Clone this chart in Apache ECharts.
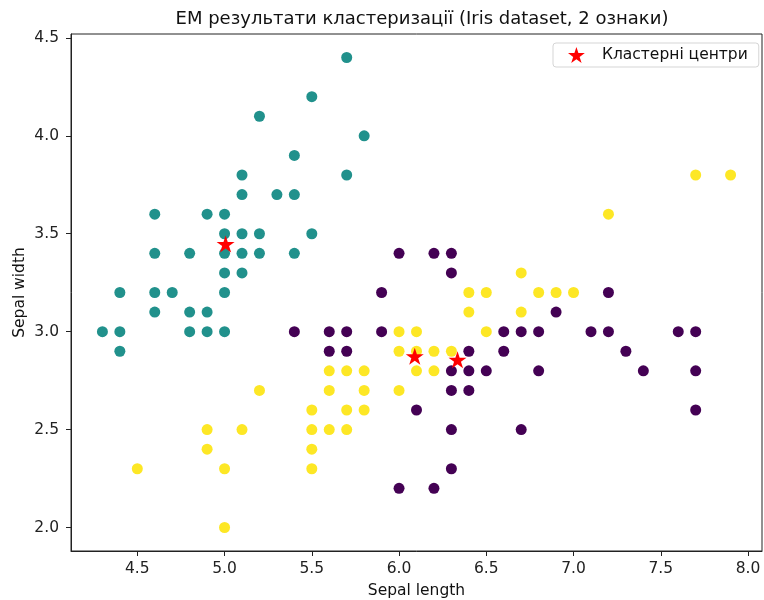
<!DOCTYPE html>
<html>
<head>
<meta charset="utf-8">
<script src="https://cdn.jsdelivr.net/npm/echarts@6/dist/echarts.min.js"></script>
<style>html,body{margin:0;padding:0;background:#fff}#c{width:764px;height:600px}</style>
</head>
<body>
<div id="c"></div>
<script>
// Cluster assignments: [sepal length, sepal width]
const clusterTeal = [[4.3,3.0],[4.4,2.9],[4.4,3.0],[4.4,3.2],[4.6,3.1],[4.6,3.2],[4.6,3.4],[4.6,3.6],[4.7,3.2],[4.8,3.0],[4.8,3.1],[4.8,3.4],[4.9,3.0],[4.9,3.1],[4.9,3.6],[5.0,3.0],[5.0,3.2],[5.0,3.3],[5.0,3.4],[5.0,3.5],[5.0,3.6],[5.1,3.3],[5.1,3.4],[5.1,3.5],[5.1,3.7],[5.1,3.8],[5.2,3.4],[5.2,3.5],[5.2,4.1],[5.3,3.7],[5.4,3.4],[5.4,3.7],[5.4,3.9],[5.5,3.5],[5.5,4.2],[5.7,3.8],[5.7,4.4],[5.8,4.0]];
const clusterPurple = [[5.4,3.0],[5.6,2.9],[5.6,3.0],[5.7,2.9],[5.7,3.0],[5.9,3.0],[5.9,3.2],[6.0,2.2],[6.0,3.4],[6.1,2.6],[6.2,2.2],[6.2,3.4],[6.3,2.3],[6.3,2.5],[6.3,2.7],[6.3,2.8],[6.3,3.3],[6.3,3.4],[6.4,2.7],[6.4,2.8],[6.4,2.9],[6.5,2.8],[6.6,2.9],[6.6,3.0],[6.7,2.5],[6.7,3.0],[6.8,2.8],[6.8,3.0],[6.9,3.1],[7.1,3.0],[7.2,3.0],[7.2,3.2],[7.3,2.9],[7.4,2.8],[7.6,3.0],[7.7,2.6],[7.7,2.8],[7.7,3.0]];
const clusterYellow = [[4.5,2.3],[4.9,2.4],[4.9,2.5],[5.0,2.0],[5.0,2.3],[5.1,2.5],[5.2,2.7],[5.5,2.3],[5.5,2.4],[5.5,2.5],[5.5,2.6],[5.6,2.5],[5.6,2.7],[5.6,2.8],[5.7,2.5],[5.7,2.6],[5.7,2.8],[5.8,2.6],[5.8,2.7],[5.8,2.8],[6.0,2.7],[6.0,2.9],[6.0,3.0],[6.1,2.8],[6.1,2.9],[6.1,3.0],[6.2,2.8],[6.2,2.9],[6.3,2.9],[6.4,3.1],[6.4,3.2],[6.5,3.0],[6.5,3.2],[6.7,3.1],[6.7,3.3],[6.8,3.2],[6.9,3.2],[7.0,3.2],[7.2,3.6],[7.7,3.8],[7.9,3.8]];
const centers = [[5.006,3.453],[6.09,2.879],[6.335,2.862]];
const xTicks = [4.5,5.0,5.5,6.0,6.5,7.0,7.5,8.0];
const yTicks = [2.0,2.5,3.0,3.5,4.0,4.5];
const titleText = 'EM результати кластеризації (Iris dataset, 2 ознаки)';
const xName = 'Sepal length';
const yName = 'Sepal width';
const legendName = 'Кластерні центри';

const FONT = 'DejaVu Sans';
const FS = 15.5;
const STAR = 'path://M0,-50L11.23,-15.45L47.55,-15.45L18.16,5.9L29.39,40.45L0,19.1L-29.39,40.45L-18.16,5.9L-47.55,-15.45L-11.23,-15.45Z';
const chart = echarts.init(document.getElementById('c'), null, {renderer: 'canvas'});
const axisCommon = {
  type: 'value',
  nameLocation: 'middle',
  nameMoveOverlap: false,
  nameTextStyle: {fontFamily: FONT, fontSize: FS, color: '#111'},
  axisLine: {show: true, onZero: false, lineStyle: {color: '#222', width: 1}},
  splitLine: {show: false}
};
chart.setOption({
  animation: false,
  backgroundColor: '#fff',
  title: {
    text: titleText, left: 417, top: 5, textAlign: 'center',
    textStyle: {fontFamily: FONT, fontSize: 18, fontWeight: 'normal', color: '#111'}
  },
  legend: {
    data: [legendName], left: 553, top: 43,
    padding: [4, 11, 4, 15], itemWidth: 17, itemHeight: 16,
    backgroundColor: '#fff', borderColor: '#d5d5d5', borderWidth: 1, borderRadius: 3,
    textStyle: {fontFamily: FONT, fontSize: FS, color: '#111', padding: [0, 0, 0, 12]}
  },
  grid: {left: 71, right: 2, top: 34, bottom: 49, show: true, borderColor: '#222', borderWidth: 1, containLabel: false, outerBoundsMode: 'none'},
  xAxis: Object.assign({}, axisCommon, {
    min: 4.12, max: 8.08, name: xName, nameGap: 32,
    axisTick: {show: true, length: 5, customValues: xTicks, lineStyle: {color: '#222'}},
    axisLabel: {customValues: xTicks, margin: 10, fontFamily: FONT, fontSize: FS, color: '#222', formatter: v => v.toFixed(1)}
  }),
  yAxis: Object.assign({}, axisCommon, {
    min: 1.88, max: 4.52, name: yName, nameGap: 43,
    axisTick: {show: true, length: 5, customValues: yTicks, lineStyle: {color: '#222'}},
    axisLabel: {customValues: yTicks, margin: 12, fontFamily: FONT, fontSize: FS, color: '#222', formatter: v => v.toFixed(1)}
  }),
  series: [
    {type: 'scatter', name: 'c0', data: clusterPurple, symbolSize: 11, itemStyle: {color: '#440154', opacity: 1}},
    {type: 'scatter', name: 'c1', data: clusterTeal, symbolSize: 11, itemStyle: {color: '#21918c', opacity: 1}},
    {type: 'scatter', name: 'c2', data: clusterYellow, symbolSize: 11, itemStyle: {color: '#fde725', opacity: 1}},
    {type: 'scatter', name: legendName, data: centers, symbol: STAR, symbolSize: [18, 17], symbolOffset: [0, 1], z: 10, itemStyle: {color: '#ff0000', opacity: 1}}
  ]
});
</script>
</body>
</html>
